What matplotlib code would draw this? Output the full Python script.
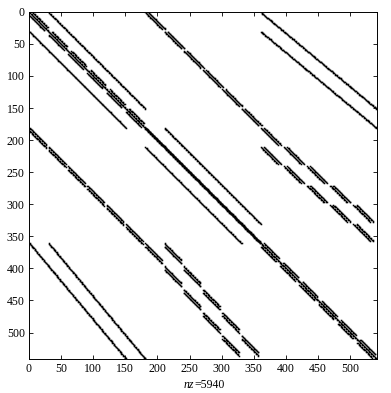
import numpy as np
import matplotlib.pyplot as plt

plt.rcParams['font.family'] = 'Liberation Serif'

n = 540
nz_total = 5940
ticks = [0, 50, 100, 150, 200, 250, 300, 350, 400, 450, 500]

# solid lines in the upper triangle: (row0, col0, row1, col1), mirrored below
solid_lines = [
    (0, 30, 150, 180),
    (180, 210, 330, 360),
    (0, 360, 150, 540),
    (30, 360, 180, 540),
]
# main diagonal pieces: (start, end, band offsets)
diag_pieces = [
    (0, 180, [0]),
    (180, 360, [0, 1]),
    (360, 540, [0]),
]
# short slope-1 dashes, upper triangle, mirrored below
diag_dash_starts = [0, 30, 60, 90, 120, 150, 360, 390, 420, 450, 480, 510]
dash_len = 27
dash_gap = 5
block01_rows = [0, 30, 60, 90, 120, 150]
block12_rows = [180, 210, 240, 270, 300]
block12_cols = [360, 396, 432, 468, 504]
block12_band_shift = 30

M = np.zeros((n, n), dtype=bool)

def put_line(r0, c0, r1, c1):
    k = max(abs(r1 - r0), abs(c1 - c0)) + 1
    rr = np.round(np.linspace(r0, r1, k)).astype(int)
    cc = np.round(np.linspace(c0, c1, k)).astype(int)
    rr = np.clip(rr, 0, n - 1)
    cc = np.clip(cc, 0, n - 1)
    M[rr, cc] = True
    M[cc, rr] = True

def put_dash(r0, c0, length):
    put_line(r0, c0, r0 + length - 1, c0 + length - 1)

for line in solid_lines:
    put_line(*line)

for a, b, offs in diag_pieces:
    for d in offs:
        put_line(a, a + d, b - 1 - d, b - 1)

for s in diag_dash_starts:
    put_dash(s, s + dash_gap, dash_len - dash_gap + 2)

for s in block01_rows:
    put_dash(s, s + 180, dash_len)
    put_dash(s, s + 180 + dash_gap, dash_len)

for band in [0, block12_band_shift]:
    for r, c in zip(block12_rows, block12_cols):
        put_dash(r + band, c, dash_len)
        put_dash(r + band, c + dash_gap, dash_len)

rows, cols = np.nonzero(M)

fig = plt.figure(figsize=(3.91, 3.93), dpi=100)
ax = fig.add_axes([0.074, 0.087, 0.889, 0.883])
ax.plot(cols + 1, rows + 1, 's', color='black', markersize=1.1, markeredgewidth=0)
ax.set_xlim(0, n + 1)
ax.set_ylim(n + 1, 0)
ax.set_xticks(ticks)
ax.set_yticks(ticks)
ax.tick_params(direction='in', length=3, width=0.6, top=True, right=True, labelsize=8.5, pad=3)
for sp in ax.spines.values():
    sp.set_linewidth(0.7)

# x label "nz=5940" with italic nz
ax.text(0.476, -0.058, 'nz', transform=ax.transAxes, ha='right', va='top',
        fontsize=8.5, fontstyle='italic')
ax.text(0.476, -0.058, '=' + str(nz_total), transform=ax.transAxes, ha='left', va='top',
        fontsize=8.5)

plt.savefig('out.png', dpi=100)
